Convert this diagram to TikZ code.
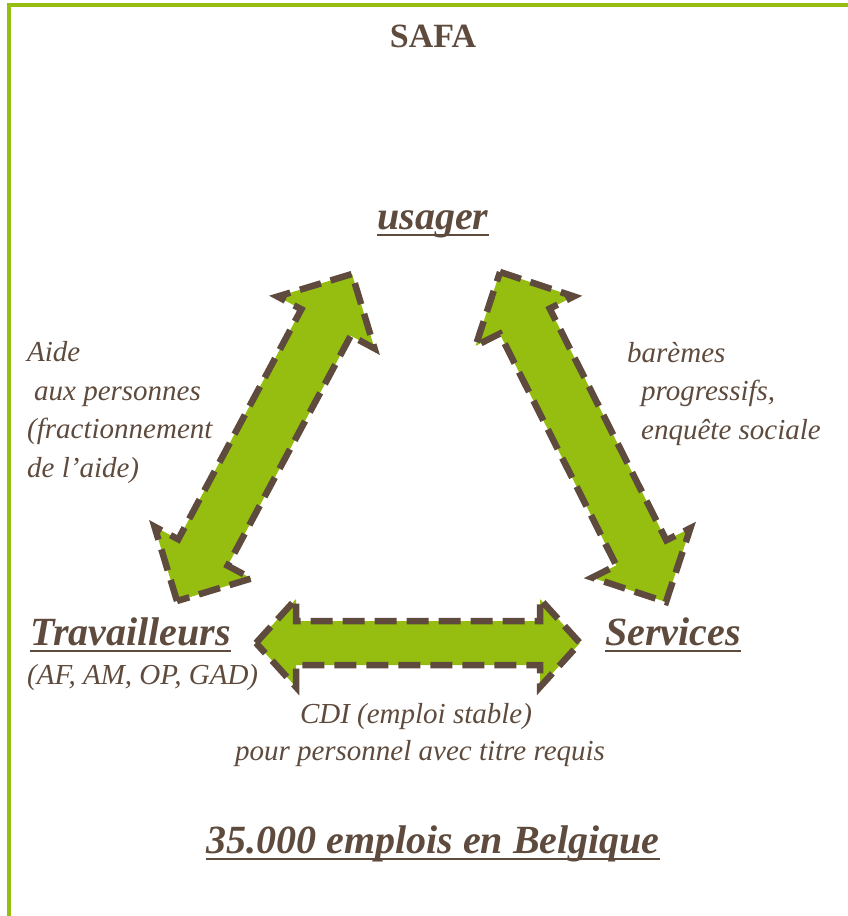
\documentclass[tikz,border=0pt]{standalone}
\usepackage{fontspec}
\setmainfont{Liberation Serif}
\usetikzlibrary{calc, positioning}
\definecolor{safagreen}{HTML}{95BE10}
\definecolor{safabrown}{HTML}{5E4B3D}
\tikzset{
  x=1pt, y=-1pt, % pixel coordinates of the layout
  frame/.style={draw=safagreen, line width=3.5pt},
  bigarrow/.style={fill=safagreen, draw=safabrown, line width=6.5pt, dash pattern=on 22pt off 10pt}, % dashed fat arrows
  title/.style={text=safabrown, font=\fontsize{34}{40}\selectfont\bfseries, inner sep=0pt},
  heading/.style={text=safabrown, font=\fontsize{40}{46}\selectfont\bfseries\itshape, inner sep=0pt},
  body/.style={text=safabrown, font=\fontsize{29}{38.5}\selectfont\itshape, inner sep=0pt, align=left},
  ul/.style={draw=safabrown, line width=2.5pt},
}
% fat double arrow: from, to, head length, head half width, shaft half width
\newcommand{\fatarrow}[5]{%
  \path ($(#1)!#3!(#2)$) coordinate (fa-p) ($(#2)!#3!(#1)$) coordinate (fa-q);
  \draw[bigarrow] (#1) -- ($(fa-p)!#4!90:(#2)$) -- ($(fa-p)!#5!90:(#2)$)
    -- ($(fa-q)!#5!-90:(#1)$) -- ($(fa-q)!#4!-90:(#1)$) -- (#2)
    -- ($(fa-q)!#4!90:(#1)$) -- ($(fa-q)!#5!90:(#1)$)
    -- ($(fa-p)!#5!-90:(#2)$) -- ($(fa-p)!#4!-90:(#2)$) -- cycle;
}
\newcommand{\underlinenode}[1]{\draw[ul] ([yshift=-6pt]#1.base west) -- ([yshift=-6pt]#1.base east);}

\begin{document}
\begin{tikzpicture}
    \useasboundingbox (0,0) rectangle (848,916);
    \draw[frame] (9,916) -- (9,5) -- (848,5);

    % texts
    \node[title, anchor=base] (safa) at (433,47) {SAFA};
    \node[heading, anchor=base] (usager) at (433,229) {usager};
    \node[heading, anchor=base west] (trav) at (30,645) {Travailleurs};
    \node[body, anchor=base west] (codes) at (27,684) {(AF, AM, OP, GAD)};
    \node[heading, anchor=base west] (serv) at (605,645) {Services};
    \node[body, anchor=base] (cdi) at (416,723) {CDI (emploi stable)};
    \node[body, anchor=base] (titre) at (420,760) {pour personnel avec titre requis};
    \node[heading, anchor=base] (emplois) at (433,853) {35.000 emplois en Belgique};
    \node[body, anchor=base west] (aide) at (27,477) {Aide\\\hspace{7pt}aux personnes\\(fractionnement\\de l'aide)};
    \node[body, anchor=base west] (baremes) at (627,439) {barèmes\\\hspace{14pt}progressifs,\\\hspace{14pt}enquête sociale};

    \underlinenode{usager}
    \underlinenode{trav}
    \underlinenode{serv}
    \underlinenode{emplois}

    % arrow ends
    \coordinate (la-bot) at (177,601);
    \coordinate (la-top) at (352,274);
    \coordinate (ra-top) at (500,272);
    \coordinate (ra-bot) at (666,602);
    \coordinate (ha-left) at (256,643);
    \coordinate (ha-right) at (580,643);

    \fatarrow{la-bot}{la-top}{55pt}{55pt}{28pt}
    \fatarrow{ra-top}{ra-bot}{55pt}{55pt}{28pt}
    \fatarrow{ha-left}{ha-right}{40pt}{44pt}{22pt}
\end{tikzpicture}
\end{document}
